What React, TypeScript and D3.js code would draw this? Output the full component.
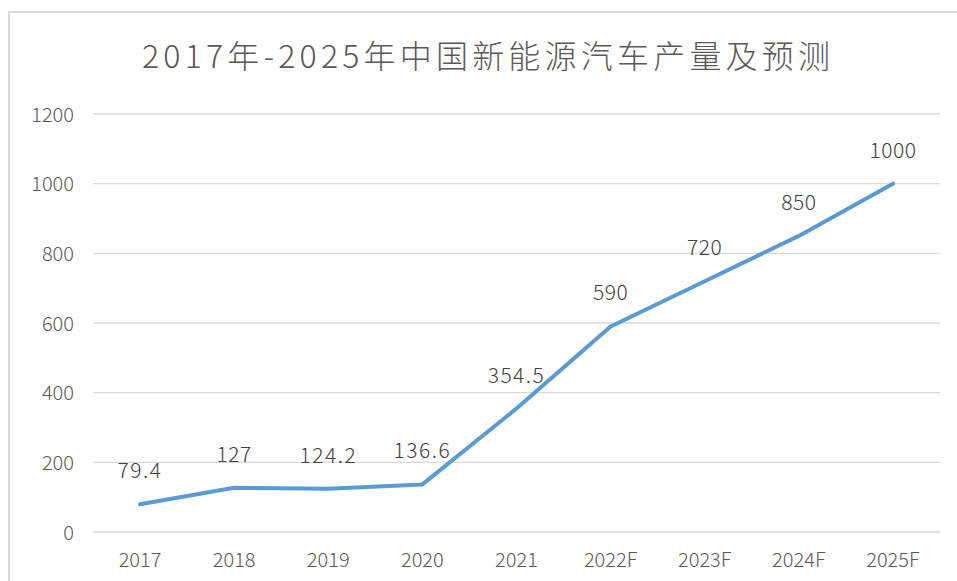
import React from "react";
import * as d3 from "d3";

const categories = ["2017", "2018", "2019", "2020", "2021", "2022F", "2023F", "2024F", "2025F"];
const values = [79.4, 127, 124.2, 136.6, 354.5, 590, 720, 850, 1000];
const labels = ["79.4", "127", "124.2", "136.6", "354.5", "590", "720", "850", "1000"];
const yTicks = [0, 200, 400, 600, 800, 1000, 1200];
const title = "2017年-2025年中国新能源汽车产量及预测";

const W = 957;
const H = 581;
const FONT = "'Noto Sans CJK SC', 'Noto Sans', sans-serif";

export default function App() {
  const x = d3.scaleBand<string>().domain(categories).range([93, 940]);
  const y = d3.scaleLinear().domain([0, 1200]).range([532, 114]);
  const cx = (i: number) => (x(categories[i]) as number) + x.bandwidth() / 2;
  const line = d3
    .line<number>()
    .x((_, i) => cx(i))
    .y((d) => y(d));

  return (
    <svg
      width={W}
      height={H}
      style={{ position: "absolute", left: 0, top: 0, background: "#fff" }}
      fontFamily={FONT}
    >
      <rect x={9} y={12} width={W + 10} height={H + 10} fill="#fff" stroke="#d9d9d9" strokeWidth={2} />
      <text
        x={486}
        y={68}
        textAnchor="middle"
        fontSize={32}
        fontWeight={300}
        fill="#595959"
        textLength={688}
        lengthAdjust="spacing"
      >
        {title}
      </text>
      {yTicks.map((t) => (
        <g key={t}>
          <line x1={93} x2={940} y1={y(t)} y2={y(t)} stroke="#d9d9d9" strokeWidth={1.3} />
          <text x={74} y={y(t) + 7.5} textAnchor="end" fontSize={20} fontWeight={300} fill="#595959">
            {t}
          </text>
        </g>
      ))}
      {categories.map((c, i) => (
        <text key={c} x={cx(i)} y={567} textAnchor="middle" fontSize={20} fontWeight={300} fill="#595959">
          {c}
        </text>
      ))}
      <path
        d={line(values) || ""}
        fill="none"
        stroke="#5b9bd5"
        strokeWidth={4}
        strokeLinejoin="round"
        strokeLinecap="round"
      />
      {values.map((v, i) => (
        <text
          key={i}
          x={cx(i)}
          y={y(v) - 26}
          textAnchor="middle"
          fontSize={21}
          fontWeight={300}
          fill="#404040"
          letterSpacing={labels[i].includes(".") ? 1.5 : 0.5}
        >
          {labels[i]}
        </text>
      ))}
    </svg>
  );
}
